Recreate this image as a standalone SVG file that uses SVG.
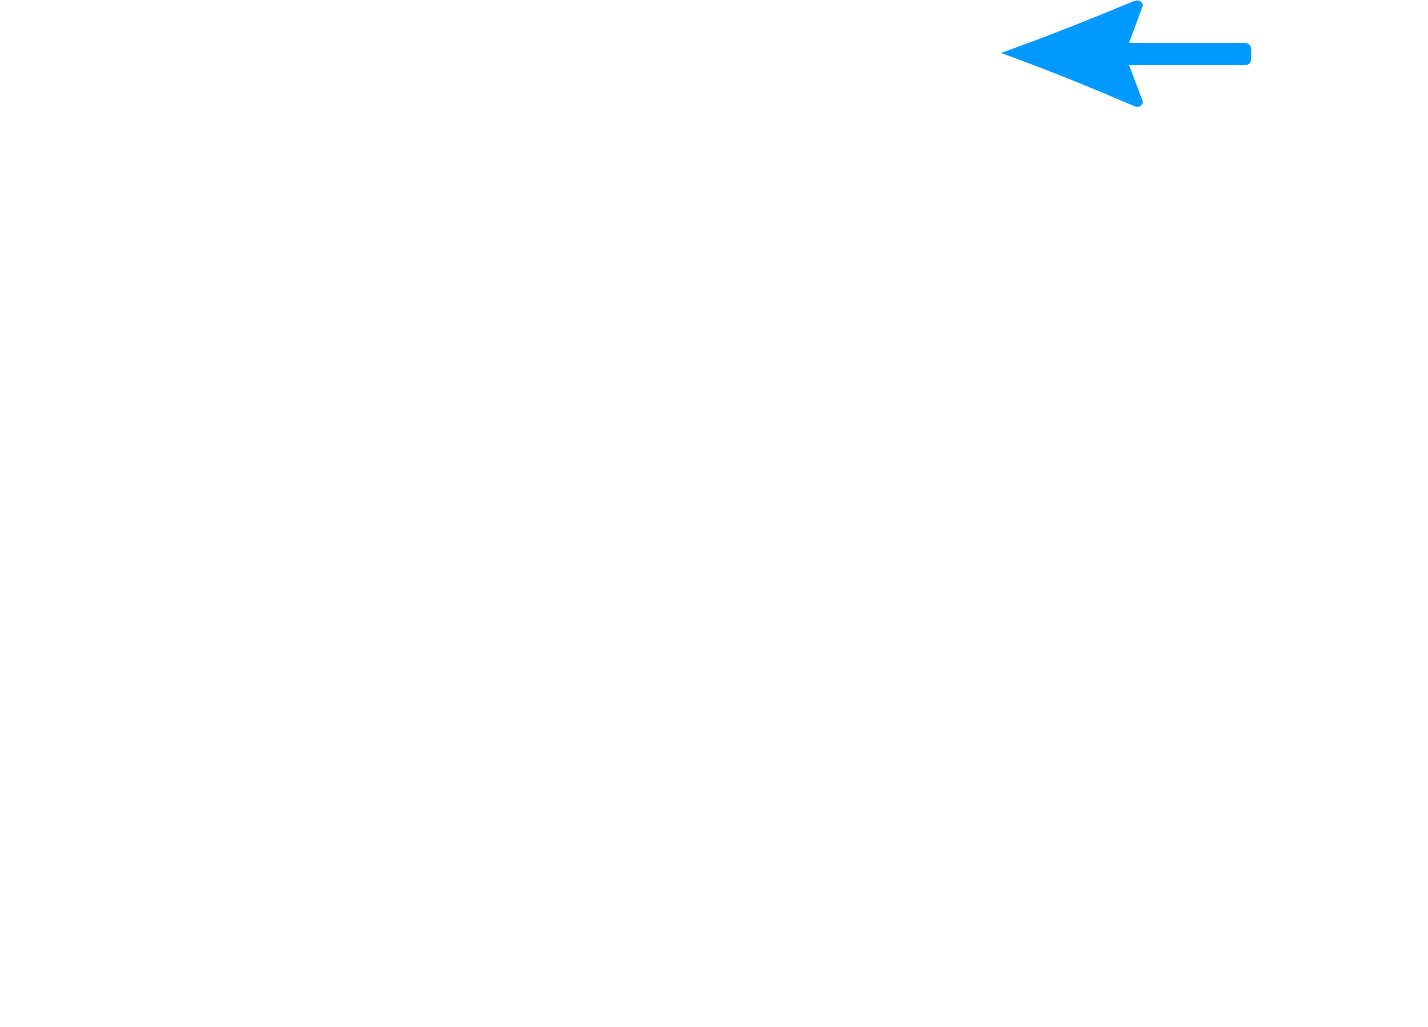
<svg xmlns="http://www.w3.org/2000/svg" width="1428" height="1027" viewBox="0 0 1428 1027">
<style>.arrow{fill:#0099FF;stroke:none}</style>
<rect width="1428" height="1027" fill="#FFFFFF"/>
<g id="connectors">
<path class="arrow" d="M1001,53 Q1060,32 1134,1 Q1141,-1 1143,5 L1129,43 L1245,43 Q1251,43 1251,49 L1251,59 Q1251,65 1245,65 L1129,65 L1143,102 Q1141,109 1134,106 Q1060,74 1001,53 Z"/>
</g>
</svg>
